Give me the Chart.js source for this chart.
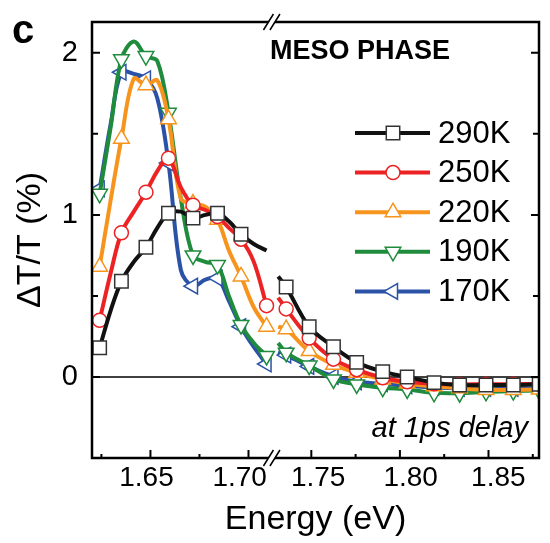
<!DOCTYPE html>
<html>
<head>
<meta charset="utf-8">
<script src="https://cdn.jsdelivr.net/npm/chart.js@4.4.0/dist/chart.umd.min.js"></script>
<style>
  html, body { margin: 0; padding: 0; background: #fff; }
  #wrap { width: 550px; height: 543px; }
</style>
</head>
<body>
<div id="wrap"><canvas id="grafica" width="550" height="543"></canvas></div>
<script>
// energias (eV) a cada lado del corte del eje
const energiasIzq = [1.6241, 1.6297, 1.6352, 1.6415, 1.6477, 1.6535, 1.6592, 1.6655, 1.6717, 1.6780, 1.6842, 1.6900, 1.6962, 1.7027, 1.7092];
const energiasDer = [1.7313, 1.7358, 1.7488, 1.7625, 1.7756, 1.7903, 1.8041, 1.8193, 1.8337, 1.8486, 1.8640, 1.8786];

const etiquetas = ['290K', '250K', '220K', '190K', '170K'];

// dT/T (%) por temperatura
const t290Izq = [0.18, 0.41, 0.59, 0.71, 0.80, 0.92, 1.01, 1.02, 0.98, 1.00, 1.01, 0.96, 0.88, 0.82, 0.78];
const t290Der = [0.62, 0.555, 0.31, 0.186, 0.09, 0.033, 0.0, -0.035, -0.05, -0.05, -0.05, -0.045];
const t250Izq = [0.35, 0.64, 0.89, 1.02, 1.14, 1.27, 1.35, 1.17, 1.06, 1.03, 0.99, 0.92, 0.85, 0.71, 0.44];
const t250Der = [0.49, 0.42, 0.24, 0.11, 0.045, -0.005, -0.03, -0.042, -0.046, -0.045, -0.045, -0.043];
const t220Izq = [0.68, 1.09, 1.47, 1.84, 1.80, 1.83, 1.59, 1.10, 1.07, 1.05, 0.97, 0.78, 0.62, 0.43, 0.31];
const t220Der = [0.31, 0.295, 0.16, 0.075, 0.026, -0.015, -0.04, -0.058, -0.07, -0.08, -0.08, -0.078];
const t190Izq = [1.13, 1.54, 1.96, 2.07, 1.98, 1.95, 1.63, 1.10, 0.75, 0.71, 0.69, 0.50, 0.32, 0.21, 0.13];
const t190Der = [0.21, 0.15, 0.07, -0.015, -0.046, -0.066, -0.077, -0.098, -0.10, -0.092, -0.087, -0.083];
const t170Izq = [1.16, 1.56, 1.88, 1.87, 1.84, 1.72, 1.32, 0.66, 0.56, 0.60, 0.61, 0.47, 0.31, 0.185, 0.08];
const t170Der = [0.155, 0.135, 0.065, 0.003, -0.03, -0.042, -0.055, -0.065, -0.07, -0.07, -0.07, -0.07];

// marcas del eje x
const marcasX = [1.65, 1.70, 1.75, 1.80, 1.85];
const etiquetasX = ['1.65', '1.70', '1.75', '1.80', '1.85'];
const menoresX = [1.625, 1.675, 1.775, 1.825, 1.875];
// en la figura original las etiquetas no quedan centradas en su marca (px)
const desfaseEtiquetas = [-4, -9, 7, 11, 10];

// eje x partido: dos tramos con distinta escala
const E_MIN = 1.6202, CORTE_IZQ = 1.7117, CORTE_DER = 1.7275, E_MAX = 1.8785;
const ESCALA_IZQ = 2000, ESCALA_DER = 1807;

function posX(e) {
  if (e <= CORTE_IZQ + 0.004) return (e - E_MIN) * ESCALA_IZQ;
  return (CORTE_IZQ - E_MIN) * ESCALA_IZQ + (e - CORTE_DER) * ESCALA_DER;
}

function puntos(izq, der) {
  const a = energiasIzq.map((e, i) => ({ x: posX(e), y: izq[i] }));
  const b = energiasDer.map((e, i) => ({ x: posX(e), y: der[i] }));
  return [...a, { x: posX(CORTE_IZQ), y: null }, ...b];
}

const nIzq = energiasIzq.length;
function radioMarca(r, sinUltima) {
  return ctx => {
    const i = ctx.dataIndex;
    if (i < nIzq) {
      if (sinUltima && i === nIzq - 1) return 0;
      return i % 2 === 0 ? r : 0;
    }
    return i > nIzq + 1 ? r : 0;
  };
}

const FUENTE = '"Liberation Sans", Arial, sans-serif';

function serie(label, izq, der, color, marca, rot, r, borde, sinUltima) {
  return {
    label,
    data: puntos(izq, der),
    borderColor: color,
    borderWidth: 4,
    pointStyle: marca,
    pointRotation: rot,
    pointRadius: radioMarca(r, sinUltima),
    pointHoverRadius: 0,
    pointBackgroundColor: '#fff',
    pointBorderColor: borde || color,
    pointBorderWidth: 1.5,
    tension: 0.35,
    spanGaps: false,
    _r: r
  };
}

const datos = [
  serie(etiquetas[0], t290Izq, t290Der, '#111111', 'rect', 0, 9.5, '#333333', true),
  serie(etiquetas[1], t250Izq, t250Der, '#ec2224', 'circle', 0, 7),
  serie(etiquetas[2], t220Izq, t220Der, '#f7941d', 'triangle', 0, 9),
  serie(etiquetas[3], t190Izq, t190Der, '#1e8c3c', 'triangle', 180, 9),
  serie(etiquetas[4], t170Izq, t170Der, '#2a52a6', 'triangle', -90, 9)
];

const marco = {
  id: 'marco',
  beforeDatasetsDraw(chart) {
    const { ctx, chartArea: a, scales: { y } } = chart;
    const y0 = y.getPixelForValue(0);
    ctx.save();
    ctx.strokeStyle = '#000';
    ctx.lineWidth = 1.5;
    ctx.beginPath();
    ctx.moveTo(a.left, y0);
    ctx.lineTo(a.right, y0);
    ctx.stroke();
    ctx.restore();
  },
  afterDatasetsDraw(chart) {
    const { ctx, chartArea: a, scales: { x, y } } = chart;
    ctx.save();
    ctx.strokeStyle = '#000';
    ctx.lineWidth = 2.5;
    ctx.strokeRect(a.left, a.top, a.right - a.left, a.bottom - a.top);

    // marcas hacia dentro
    ctx.lineWidth = 2;
    ctx.beginPath();
    marcasX.forEach(e => {
      const px = x.getPixelForValue(posX(e));
      ctx.moveTo(px, a.bottom); ctx.lineTo(px, a.bottom - 8);
    });
    menoresX.forEach(e => {
      const px = x.getPixelForValue(posX(e));
      ctx.moveTo(px, a.bottom); ctx.lineTo(px, a.bottom - 4);
    });
    [0, 0.5, 1, 1.5, 2].forEach(v => {
      const py = y.getPixelForValue(v);
      const largo = Number.isInteger(v) ? 8 : 6;
      ctx.moveTo(a.left, py); ctx.lineTo(a.left + largo, py);
      ctx.moveTo(a.right, py); ctx.lineTo(a.right - largo, py);
    });
    ctx.stroke();

    // corte del eje
    const xb = x.getPixelForValue(posX(CORTE_IZQ));
    [a.top, a.bottom].forEach(yb => {
      ctx.fillStyle = '#fff';
      ctx.beginPath();
      ctx.moveTo(xb - 3 - 4, yb + 6);
      ctx.lineTo(xb - 3 + 4, yb - 6);
      ctx.lineTo(xb + 3.5 + 4, yb - 6);
      ctx.lineTo(xb + 3.5 - 4, yb + 6);
      ctx.closePath();
      ctx.fill();
      ctx.lineWidth = 1.5;
      ctx.beginPath();
      ctx.moveTo(xb - 3 - 5, yb + 8); ctx.lineTo(xb - 3 + 5, yb - 8);
      ctx.moveTo(xb + 3.5 - 5, yb + 8); ctx.lineTo(xb + 3.5 + 5, yb - 8);
      ctx.stroke();
    });

    // leyenda
    chart.data.datasets.forEach((d, i) => {
      const ly = 133 + i * 39.6;
      ctx.strokeStyle = d.borderColor;
      ctx.lineWidth = 4;
      ctx.beginPath();
      ctx.moveTo(355, ly); ctx.lineTo(430, ly);
      ctx.stroke();
      ctx.fillStyle = '#fff';
      ctx.strokeStyle = d.pointBorderColor;
      ctx.lineWidth = 1.5;
      Chart.helpers.drawPoint(ctx, { pointStyle: d.pointStyle, rotation: d.pointRotation, radius: d._r, borderWidth: 1.5 }, 393, ly);
      ctx.fillStyle = '#000';
      ctx.font = '31px ' + FUENTE;
      ctx.textAlign = 'left';
      ctx.textBaseline = 'middle';
      ctx.fillText(d.label, 438, ly + 1);
    });

    // textos
    ctx.fillStyle = '#000';
    ctx.textBaseline = 'alphabetic';
    ctx.textAlign = 'left';
    ctx.font = 'bold 27px ' + FUENTE;
    ctx.fillText('MESO PHASE', 270, 59);
    ctx.font = 'italic 29px ' + FUENTE;
    ctx.textAlign = 'right';
    ctx.fillText('at 1ps delay', 528, 437);
    ctx.restore();
  },
  afterDraw(chart) {
    const { ctx } = chart;
    ctx.save();
    ctx.fillStyle = '#000';
    ctx.font = 'bold 40px ' + FUENTE;
    ctx.textAlign = 'left';
    ctx.textBaseline = 'alphabetic';
    ctx.fillText('c', 12, 43);
    ctx.restore();
  }
};

const grafica = new Chart(document.getElementById('grafica').getContext('2d'), {
  type: 'line',
  data: { datasets: datos },
  options: {
    responsive: false,
    devicePixelRatio: 1,
    animation: false,
    layout: { padding: { top: 22, right: 3, bottom: 0, left: 0 } },
    plugins: { legend: { display: false }, tooltip: { enabled: false } },
    scales: {
      x: {
        type: 'linear',
        min: 0,
        max: posX(E_MAX),
        grid: { display: false, drawTicks: false },
        border: { display: false },
        afterBuildTicks: s => { s.ticks = marcasX.map((e, i) => ({ value: posX(e) + desfaseEtiquetas[i] })); },
        afterFit: s => { s.height = 85; s.paddingLeft = 0; s.paddingRight = 0; },
        ticks: {
          autoSkip: false,
          maxRotation: 0,
          padding: 3,
          color: '#000',
          font: { family: FUENTE, size: 28 },
          callback: (v, i) => etiquetasX[i]
        },
        title: {
          display: true,
          text: 'Energy (eV)',
          color: '#000',
          font: { family: FUENTE, size: 34 },
          padding: { top: 0, bottom: 3 }
        }
      },
      y: {
        min: -0.5,
        max: 2.19,
        grid: { display: false, drawTicks: false },
        border: { display: false },
        afterBuildTicks: s => { s.ticks = [0, 1, 2].map(v => ({ value: v })); },
        afterFit: s => { s.width = 92; s.paddingTop = 0; s.paddingBottom = 0; },
        ticks: {
          padding: 14,
          color: '#000',
          font: { family: FUENTE, size: 29 },
          callback: v => String(v)
        },
        title: {
          display: true,
          text: 'ΔT/T (%)',
          color: '#000',
          font: { family: FUENTE, size: 34 },
          padding: { top: 10, bottom: 0 }
        }
      }
    }
  },
  plugins: [marco]
});
</script>
</body>
</html>
